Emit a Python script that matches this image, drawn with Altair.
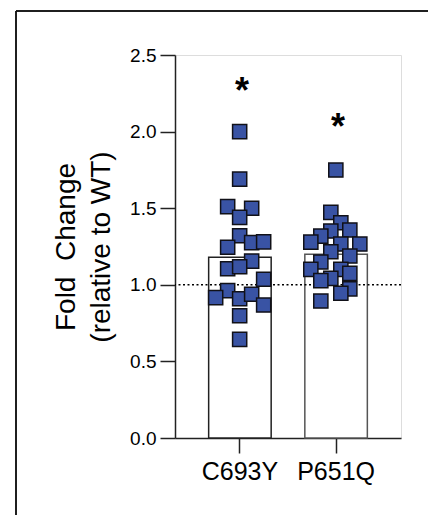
import altair as alt
import pandas as pd

# ---- data ----
groups = ["C693Y", "P651Q"]
bar_means = [1.18, 1.20]

c693y_vals = [2.00, 1.69, 1.51, 1.50, 1.44, 1.32, 1.245, 1.275, 1.28, 1.155,
              1.105, 1.118, 1.036, 0.962, 0.916, 0.909, 0.938, 0.868, 0.798, 0.644]
c693y_jitter = [0, 0, -12, 12, 0, 0, -12, 12, 24, 12,
                -12, 0, 24, -12, -24, 0, 12, 24, 0, 0]

p651q_vals = [1.749, 1.473, 1.405, 1.358, 1.351, 1.318, 1.279, 1.266, 1.266, 1.216,
              1.188, 1.149, 1.101, 1.101, 1.075, 1.042, 1.027, 0.973, 0.945, 0.894]
p651q_jitter = [0, -5, 5, 14, -5, -15, -25, 5, 24, -5,
                14, -15, -25, 5, 14, -5, -15, 14, 5, -15]

sig_marks = ["*", "*"]
sig_y = [2.30, 2.06]

reference_line = [1.0]
y_ticks = [0.0, 0.5, 1.0, 1.5, 2.0, 2.5]

# ---- tables ----
bars_df = pd.DataFrame({"group": groups, "mean": bar_means})
pts_df = pd.DataFrame({
    "group": ["C693Y"] * len(c693y_vals) + ["P651Q"] * len(p651q_vals),
    "value": c693y_vals + p651q_vals,
    "jitter": c693y_jitter + p651q_jitter,
})
sig_df = pd.DataFrame({"group": groups, "label": sig_marks, "y": sig_y})
ref_df = pd.DataFrame({"y": reference_line})

FONT = "Liberation Sans"
W, H = 226, 383

x_enc = alt.X("group:N", sort=groups,
              scale=alt.Scale(domain=groups, paddingInner=0.35, paddingOuter=0.35),
              axis=alt.Axis(title="", labelAngle=0, labelFontSize=25, labelFont=FONT,
                            labelColor="black", tickSize=15, tickWidth=1.5, tickColor="#222",
                            domainColor="#222", domainWidth=1.5, labelPadding=6, grid=False))
y_scale = alt.Scale(domain=[0, 2.5], nice=False, zero=True)
y_axis = alt.Axis(values=y_ticks, format=".1f", tickSize=15, tickWidth=1.5, tickColor="#222",
                  domainColor="#222", domainWidth=1.5, labelFontSize=19, labelFont=FONT,
                  labelColor="black", labelPadding=4, grid=False,
                  title=["Fold\u00a0\u00a0Change", "(relative to WT)"], titleFont=FONT,
                  titleFontSize=28, titleFontWeight="normal", titleColor="black",
                  titleLineHeight=35, titlePadding=14)

bars = alt.Chart(bars_df).mark_bar(fill="white", strokeWidth=1.5).encode(
    x=x_enc,
    y=alt.Y("mean:Q", scale=y_scale, axis=y_axis),
    stroke=alt.Stroke("group:N", scale=alt.Scale(domain=groups, range=["#222222", "#555555"]),
                      legend=None),
)

ref = alt.Chart(ref_df).mark_rule(color="black", strokeWidth=1.5, strokeDash=[2, 2.5]).encode(
    y=alt.Y("y:Q", scale=y_scale),
)

points = alt.Chart(pts_df).mark_square(size=200, fill="#3953A4", stroke="#111118",
                                       strokeWidth=1.5, opacity=1).encode(
    x=alt.X("group:N", sort=groups),
    xOffset=alt.XOffset("jitter:Q", scale=alt.Scale(domain=[-31, 31], range=[0, 62])),
    y=alt.Y("value:Q", scale=y_scale),
)

sig = alt.Chart(sig_df).mark_text(fontSize=36, fontWeight="bold", font=FONT, color="black",
                                  baseline="middle", dy=6, dx=2).encode(
    x=alt.X("group:N", sort=groups),
    y=alt.Y("y:Q", scale=y_scale),
    text="label:N",
)

# decorative frame (top and left edges of the figure panel)
frame_top = alt.Chart(bars_df).mark_rule(color="#111", strokeWidth=1.5).encode(
    x=alt.value(-159), x2=alt.value(260), y=alt.value(-44))
frame_left = alt.Chart(bars_df).mark_rule(color="#111", strokeWidth=1.5).encode(
    x=alt.value(-159), y=alt.value(-44), y2=alt.value(470))

chart = alt.layer(bars, ref, points, sig, frame_top, frame_left).resolve_scale(
    xOffset="independent"
).properties(
    width=W, height=H,
    autosize=alt.AutoSizeParams(type="none"),
    padding={"left": 175, "top": 55, "right": 27, "bottom": 77},
).configure_view(strokeWidth=0).configure(background="white")

chart.save("out.html", embed_options={"renderer": "svg", "actions": False})
